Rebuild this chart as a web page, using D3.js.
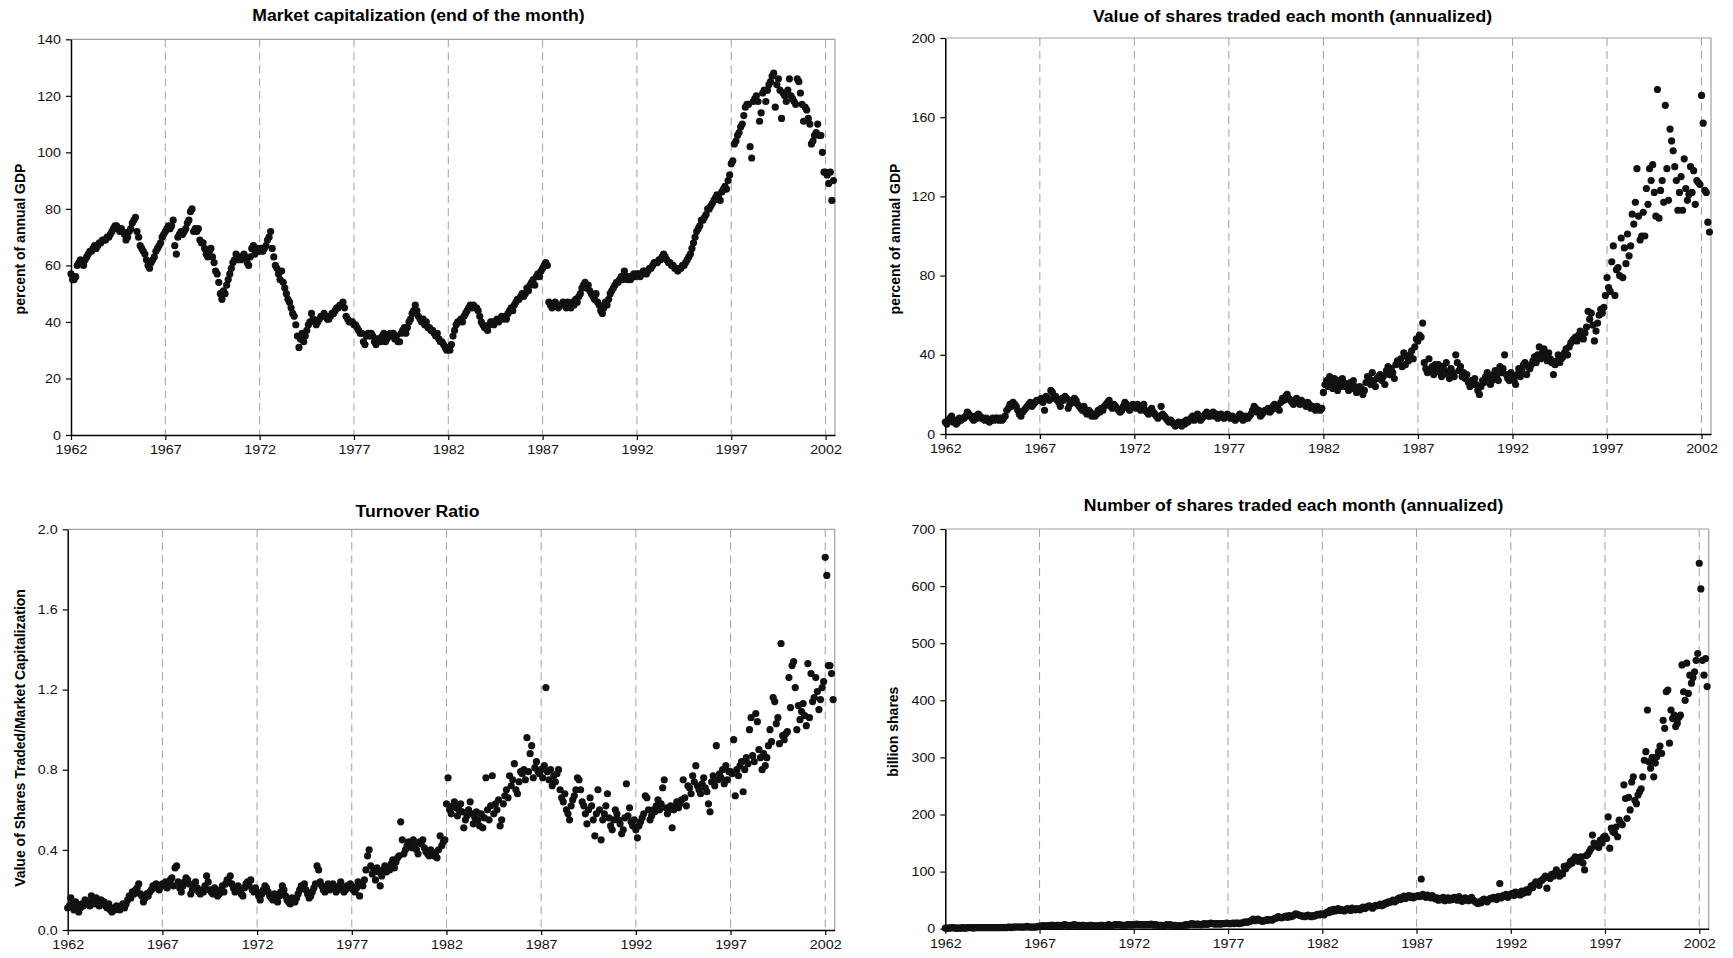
<!DOCTYPE html>
<html>
<head>
<meta charset="utf-8">
<script src="https://cdn.jsdelivr.net/npm/d3@7"></script>
<style>
  body { margin: 0; background: #fff; }
  svg { display: block; font-family: Arial, "Liberation Sans", sans-serif; }
</style>
</head>
<body>
<svg id="chart" width="1733" height="958"></svg>
<script>
// Monthly observations, one row per year starting January 1962.
const startYear = 1962;
const yearTicks = [1962, 1967, 1972, 1977, 1982, 1987, 1992, 1997, 2002];
const xDomain = [1962, 2002.5];

// Market capitalization, percent of annual GDP (end of month)
const marketCap = [
  57,55,55,56,60,61,62,61,60,62,63,64,
  65,65,66,67,66,67,68,68,69,69,69,70,
  70,71,72,73,74,74,73,72,73,72,71,69,
  70,72,73,75,76,77,72,70,67,66,65,64,
  62,60,59,61,62,63,65,66,67,68,70,71,
  72,73,74,73,74,76,67,64,70,71,72,71,
  72,73,75,76,79,80,72,73,72,73,69,68,
  68,66,64,63,65,66,63,61,58,57,54,50,
  48,51,50,53,55,57,59,61,62,64,62,63,
  62,63,64,63,61,60,63,66,67,64,65,66,
  65,66,65,66,67,69,70,72,66,63,60,59,
  57,55,58,54,52,50,48,47,45,43,42,39,
  35,31,34,36,33,35,37,39,40,43,41,40,
  39,40,41,42,42,43,42,41,41,42,43,43,
  44,45,45,46,46,47,45,42,41,40,40,40,
  39,39,38,37,36,36,33,32,35,36,35,36,
  35,33,32,34,34,33,35,36,33,34,35,36,
  35,36,34,35,33,33,36,37,38,36,38,40,
  41,43,44,46,44,42,41,40,41,39,40,38,
  38,37,37,36,35,36,34,33,33,32,31,30,
  31,30,32,35,37,39,40,40,41,40,42,43,
  44,45,46,45,46,45,45,44,42,40,39,38,
  38,37,39,40,40,39,40,41,40,41,42,41,
  42,41,43,44,45,44,46,47,48,48,49,50,
  49,50,52,51,53,54,55,53,56,57,56,58,
  59,60,61,60,47,46,45,46,47,46,45,46,
  46,47,46,45,47,46,45,47,46,48,47,49,
  50,52,53,54,52,53,51,50,49,48,50,47,
  46,44,43,45,47,46,48,50,51,52,53,54,
  54,55,56,55,58,56,55,56,55,56,57,56,
  57,57,56,57,58,58,57,58,59,59,60,61,
  61,61,62,62,63,64,63,62,61,61,60,60,
  59,59,58,59,59,60,60,61,62,63,64,66,
  68,70,72,73,74,76,76,77,78,80,80,81,
  82,83,84,85,84,83,86,87,88,87,90,92,
  96,97,103,104,106,107,109,110,113,116,117,117,
  102,98,118,119,120,118,111,114,121,122,118,122,
  124,125,127,128,116,124,126,122,112,121,120,118,
  122,126,120,119,118,117,126,125,121,117,111,116,
  115,112,110,103,104,106,107,110,106,106,100,93,
  93,92,89,93,83,90
];

// Value of shares traded each month (annualized), percent of annual GDP
const valueTraded = [
  6,5,7,8,9,6,7,5,6,8,7,8,
  8,9,11,10,9,8,7,9,8,10,9,8,
  8,7,8,7,6,7,8,7,8,8,7,8,
  7,8,9,12,13,15,14,16,15,14,12,10,
  9,11,12,13,14,15,16,14,15,16,17,17,
  17,18,16,12,19,18,17,22,21,18,19,17,
  16,14,18,17,19,18,13,15,17,16,18,17,
  15,14,13,12,14,11,10,12,11,9,10,9,
  10,12,11,13,12,14,15,16,17,14,13,15,
  14,13,12,11,12,14,16,15,13,12,14,15,
  14,13,15,14,12,13,15,12,11,10,12,13,
  11,10,9,8,9,14,10,9,8,7,6,7,
  6,5,4,5,6,5,4,6,5,7,6,7,
  8,9,7,8,10,9,7,8,9,10,11,9,
  9,10,11,9,10,8,9,10,9,8,9,10,
  9,8,9,8,7,8,9,10,8,7,9,8,
  8,9,10,12,14,13,11,12,9,10,11,12,
  12,13,11,12,14,15,13,14,12,16,18,17,
  19,20,18,17,16,15,17,18,16,15,17,16,
  15,14,16,15,13,14,13,12,14,13,12,13,
  21,25,27,24,29,26,23,28,25,22,27,24,
  28,26,24,25,22,26,23,27,24,21,23,24,
  23,20,22,26,29,28,25,31,27,24,28,29,
  30,27,29,25,32,34,30,33,31,28,35,37,
  36,38,34,41,35,39,37,40,42,38,44,48,
  47,50,49,56,36,33,31,38,32,34,30,35,
  33,35,31,29,34,32,36,30,28,33,31,29,
  40,36,32,34,29,31,28,30,26,24,27,25,
  28,25,22,20,24,27,26,29,31,28,25,27,
  30,32,29,27,34,31,33,40,30,28,27,31,
  29,27,25,30,33,29,32,35,36,30,34,33,
  35,37,39,36,40,44,38,41,43,39,37,41,
  38,36,30,35,37,40,36,38,39,41,43,40,
  44,46,47,48,49,47,50,52,49,48,51,54,
  62,58,61,55,47,52,56,60,63,61,64,70,
  79,74,72,87,95,70,83,84,80,99,79,94,
  86,101,90,95,111,106,117,134,110,98,100,112,
  100,124,116,134,128,136,122,110,174,109,123,128,
  117,166,134,118,154,148,143,135,128,113,122,130,
  113,139,124,118,121,135,122,133,116,128,127,126,
  171,157,123,122,107,102
];

// Turnover ratio: value of shares traded / market capitalization
const turnover = [
  0.11,0.12,0.16,0.13,0.10,0.14,0.12,0.09,0.11,0.13,0.12,0.15,
  0.13,0.14,0.12,0.17,0.15,0.13,0.16,0.14,0.12,0.15,0.13,0.14,
  0.12,0.11,0.13,0.10,0.09,0.11,0.10,0.12,0.11,0.10,0.12,0.13,
  0.11,0.13,0.15,0.17,0.16,0.19,0.18,0.20,0.21,0.23,0.18,0.17,
  0.14,0.16,0.18,0.17,0.19,0.20,0.22,0.21,0.23,0.22,0.20,0.22,
  0.23,0.22,0.24,0.21,0.23,0.25,0.26,0.22,0.31,0.32,0.24,0.21,
  0.19,0.22,0.24,0.26,0.25,0.23,0.18,0.20,0.22,0.24,0.21,0.19,
  0.18,0.20,0.19,0.22,0.27,0.24,0.20,0.19,0.18,0.21,0.20,0.17,
  0.18,0.20,0.22,0.19,0.23,0.25,0.24,0.27,0.23,0.21,0.19,0.20,
  0.22,0.20,0.18,0.17,0.21,0.23,0.24,0.22,0.25,0.20,0.19,0.21,
  0.19,0.17,0.15,0.18,0.20,0.22,0.21,0.19,0.17,0.16,0.15,0.18,
  0.16,0.14,0.17,0.19,0.22,0.20,0.17,0.15,0.14,0.13,0.16,0.15,
  0.14,0.16,0.18,0.20,0.22,0.21,0.23,0.20,0.18,0.16,0.17,0.19,
  0.21,0.23,0.32,0.30,0.24,0.22,0.20,0.19,0.21,0.23,0.20,0.22,
  0.23,0.21,0.19,0.20,0.22,0.24,0.21,0.19,0.20,0.22,0.21,0.23,
  0.22,0.20,0.19,0.21,0.24,0.17,0.23,0.22,0.25,0.30,0.37,0.40,
  0.32,0.28,0.30,0.25,0.31,0.29,0.22,0.27,0.30,0.32,0.29,0.31,
  0.30,0.33,0.35,0.31,0.34,0.36,0.37,0.54,0.45,0.38,0.40,0.42,
  0.44,0.43,0.41,0.45,0.42,0.40,0.38,0.44,0.43,0.45,0.41,0.39,
  0.38,0.37,0.40,0.39,0.37,0.38,0.36,0.40,0.47,0.42,0.44,0.45,
  0.63,0.76,0.60,0.58,0.62,0.64,0.61,0.57,0.60,0.63,0.59,0.51,
  0.55,0.57,0.60,0.64,0.58,0.53,0.56,0.59,0.55,0.52,0.58,0.51,
  0.56,0.76,0.60,0.55,0.62,0.77,0.58,0.63,0.60,0.65,0.52,0.55,
  0.63,0.67,0.70,0.66,0.77,0.72,0.75,0.83,0.70,0.68,0.74,0.79,
  0.78,0.80,0.75,0.96,0.79,0.88,0.92,0.76,0.81,0.84,0.79,0.78,
  0.80,0.76,0.82,1.21,0.79,0.75,0.80,0.72,0.77,0.74,0.78,0.80,
  0.70,0.66,0.64,0.68,0.60,0.58,0.55,0.62,0.65,0.67,0.70,0.76,
  0.75,0.70,0.64,0.62,0.58,0.53,0.60,0.66,0.62,0.55,0.47,0.58,
  0.70,0.60,0.45,0.55,0.58,0.62,0.68,0.56,0.52,0.50,0.55,0.60,
  0.58,0.55,0.53,0.48,0.50,0.56,0.73,0.57,0.61,0.54,0.52,0.55,
  0.50,0.46,0.52,0.54,0.56,0.58,0.67,0.66,0.60,0.55,0.57,0.60,
  0.59,0.62,0.65,0.60,0.63,0.71,0.75,0.61,0.58,0.60,0.62,0.51,
  0.60,0.62,0.64,0.61,0.63,0.65,0.75,0.66,0.62,0.72,0.71,0.68,
  0.77,0.74,0.82,0.72,0.70,0.68,0.73,0.76,0.71,0.69,0.63,0.59,
  0.74,0.77,0.72,0.92,0.75,0.78,0.76,0.80,0.73,0.82,0.75,0.79,
  0.79,0.78,0.95,0.67,0.80,0.77,0.82,0.84,0.69,0.80,0.86,0.83,
  1.00,1.06,0.87,0.84,1.08,1.04,0.90,0.86,0.80,0.88,0.82,0.86,
  0.92,1.00,0.94,1.16,1.14,1.03,1.06,0.93,1.43,0.97,0.95,0.98,
  0.99,1.26,1.11,1.32,1.34,1.21,1.00,1.12,1.05,1.09,1.13,1.07,
  1.02,1.33,1.06,1.28,1.14,1.16,1.26,1.19,1.10,1.15,1.21,1.24,
  1.86,1.77,1.32,1.32,1.28,1.15
];

// Number of shares traded each month (annualized), billion shares
const sharesTraded = [
  1,1,1,1,2,2,1,1,1,1,1,2,
  1,1,2,2,2,2,1,2,2,2,2,2,
  2,2,2,2,2,2,2,2,2,2,2,2,
  2,2,2,2,3,3,2,3,3,3,3,3,
  3,3,3,3,4,3,3,3,3,3,3,4,
  4,5,5,5,5,5,5,6,6,6,5,6,
  6,5,6,6,7,6,6,5,6,6,7,6,
  6,6,5,6,6,5,5,5,6,6,5,5,
  5,5,5,6,6,5,5,6,7,6,5,6,
  7,7,7,7,6,6,6,6,7,7,6,7,
  7,7,8,7,7,7,7,7,7,7,7,8,
  7,6,7,6,6,6,6,5,6,7,6,7,
  6,6,6,5,5,5,5,5,6,7,6,7,
  8,9,8,7,8,8,7,7,8,9,8,8,
  9,10,9,9,8,9,9,8,9,9,9,10,
  9,9,9,10,9,10,10,9,10,10,11,12,
  11,12,13,15,17,14,16,17,15,14,13,14,
  15,16,15,16,15,17,18,19,21,20,19,20,
  21,22,20,23,21,22,24,26,25,24,23,22,
  22,21,23,24,22,21,23,22,24,25,24,26,
  25,24,27,29,28,32,30,34,31,33,35,32,
  34,32,31,33,35,34,32,36,34,33,35,34,
  33,36,38,35,37,39,40,38,36,39,41,40,
  41,43,40,42,45,44,47,46,48,50,47,49,
  52,54,51,55,57,53,56,58,55,57,54,56,
  57,58,56,87,60,57,55,59,56,54,58,55,
  52,54,50,53,51,55,49,52,54,50,53,51,
  55,52,50,56,53,48,51,54,50,49,52,55,
  50,48,46,44,47,45,50,52,49,47,51,53,
  52,55,54,51,56,79,54,58,57,60,55,58,
  60,62,58,64,61,63,59,66,62,65,68,64,
  70,75,72,78,82,80,76,84,85,88,92,71,
  90,88,95,92,97,103,95,92,98,96,109,105,
  110,112,118,115,122,126,120,118,125,126,115,103,
  128,130,135,140,164,150,145,148,142,155,150,160,
  162,158,196,141,176,170,168,178,161,190,185,182,
  252,228,193,230,208,257,266,225,219,234,240,245,
  266,295,310,383,292,281,300,266,290,301,310,320,
  307,365,351,415,418,325,383,368,374,354,360,370,
  374,462,415,400,465,412,444,430,440,450,470,482,
  640,595,470,444,473,424
];

const capTicks = [0, 20, 40, 60, 80, 100, 120, 140];
const valueTicks = [0, 40, 80, 120, 160, 200];
const turnoverTicks = [0, 0.4, 0.8, 1.2, 1.6, 2.0];
const sharesTicks = [0, 100, 200, 300, 400, 500, 600, 700];

// Text in this figure is drawn slightly wide
const hStretch = 1.1;

const panels = [
  { title: "Market capitalization (end of the month)", titleX: 418.5, titleY: 21,
    yLabel: "percent of annual GDP", labelX: 25, labelY: 239,
    values: marketCap, yMax: 140, yTicks: capTicks, fmt: d3.format("d"),
    left: 71, right: 835, top: 39.3, bottom: 435 },
  { title: "Value of shares traded each month (annualized)", titleX: 1292.5, titleY: 21.5,
    yLabel: "percent of annual GDP", labelX: 900, labelY: 239,
    values: valueTraded, yMax: 200, yTicks: valueTicks, fmt: d3.format("d"),
    left: 945.3, right: 1711, top: 38, bottom: 434 },
  { title: "Turnover Ratio", titleX: 417.5, titleY: 517,
    yLabel: "Value of Shares Traded/Market Capitalization", labelX: 25, labelY: 738,
    values: turnover, yMax: 2, yTicks: turnoverTicks, fmt: d3.format(".1f"),
    left: 67.7, right: 834.7, top: 529.3, bottom: 930 },
  { title: "Number of shares traded each month (annualized)", titleX: 1293.5, titleY: 511,
    yLabel: "billion shares", labelX: 898, labelY: 731.7,
    values: sharesTraded, yMax: 700, yTicks: sharesTicks, fmt: d3.format("d"),
    left: 945.3, right: 1708.7, top: 529, bottom: 928.7 }
];

const svg = d3.select("#chart");

function widen(sel) {
  sel.each(function () {
    const w = this.getComputedTextLength();
    d3.select(this).attr("textLength", w * hStretch).attr("lengthAdjust", "spacingAndGlyphs");
  });
}

panels.forEach(p => {
  const x = d3.scaleLinear().domain(xDomain).range([p.left, p.right]);
  const y = d3.scaleLinear().domain([0, p.yMax]).range([p.bottom, p.top]);
  const g = svg.append("g");

  // dashed year gridlines
  g.append("g").selectAll("line")
    .data(yearTicks.slice(1))
    .join("line")
    .attr("x1", d => x(d)).attr("x2", d => x(d))
    .attr("y1", p.top).attr("y2", p.bottom)
    .attr("stroke", "#a0a0a0").attr("stroke-width", 1)
    .attr("stroke-dasharray", "8,5");

  // top and right frame
  g.append("path")
    .attr("d", `M${p.left},${p.top}H${p.right}V${p.bottom}`)
    .attr("fill", "none").attr("stroke", "#a0a0a0").attr("stroke-width", 1.2);

  // axes
  const ya = g.append("g")
    .attr("transform", `translate(${p.left},0)`)
    .call(d3.axisLeft(y).tickValues(p.yTicks).tickFormat(p.fmt)
      .tickSize(5).tickSizeOuter(0).tickPadding(5));
  const xa = g.append("g")
    .attr("transform", `translate(0,${p.bottom})`)
    .call(d3.axisBottom(x).tickValues(yearTicks).tickFormat(d3.format("d"))
      .tickSize(5).tickSizeOuter(0).tickPadding(5));
  [ya, xa].forEach(a => {
    a.attr("font-family", null).attr("font-size", null);
    a.select(".domain").attr("stroke", "#000").attr("stroke-width", 1.5);
    a.selectAll(".tick line").attr("stroke", "#000").attr("stroke-width", 1.2);
    a.selectAll(".tick text").attr("fill", "#111").style("font-size", "13px");
    widen(a.selectAll(".tick text"));
  });

  // monthly observations
  g.append("g").selectAll("circle")
    .data(p.values)
    .join("circle")
    .attr("cx", (d, i) => x(startYear + i / 12))
    .attr("cy", d => y(d))
    .attr("r", 3.6)
    .attr("fill", "#111");

  // title
  const t = g.append("text")
    .attr("x", p.titleX).attr("y", p.titleY)
    .attr("text-anchor", "middle")
    .style("font-size", "16px").style("font-weight", "bold")
    .attr("fill", "#000")
    .text(p.title);
  widen(t);

  // vertical axis label
  g.append("text")
    .attr("transform", `translate(${p.labelX},${p.labelY}) rotate(-90) scale(1,${hStretch})`)
    .attr("text-anchor", "middle")
    .style("font-size", "14px").style("font-weight", "bold")
    .attr("fill", "#000")
    .text(p.yLabel);
});
</script>
</body>
</html>
